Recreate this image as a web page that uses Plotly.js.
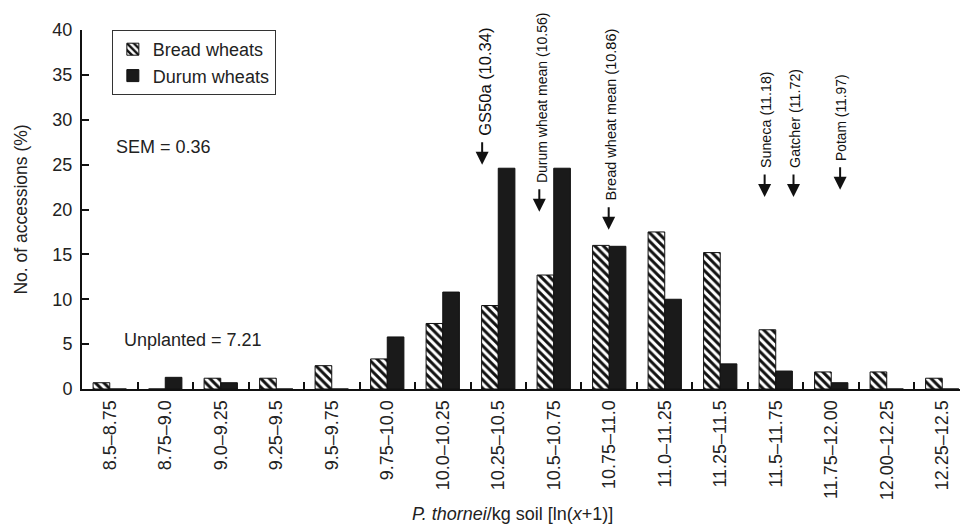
<!DOCTYPE html>
<html>
<head>
<meta charset="utf-8">
<script src="https://cdn.plot.ly/plotly-3.0.1.min.js"></script>
<style>html,body{margin:0;padding:0;background:#fff;}#chart{width:960px;height:531px;}</style>
</head>
<body>
<div id="chart"></div>
<script>
// Categories: P. thornei/kg soil [ln(x+1)] bins
const categories = ["8.5–8.75","8.75–9.0","9.0–9.25","9.25–9.5","9.5–9.75","9.75–10.0","10.0–10.25","10.25–10.5","10.5–10.75","10.75–11.0","11.0–11.25","11.25–11.5","11.5–11.75","11.75–12.00","12.00–12.25","12.25–12.5"];
// % of accessions
const breadWheats = [0.7, 0, 1.2, 1.2, 2.6, 3.35, 7.3, 9.3, 12.7, 16.0, 17.5, 15.2, 6.6, 1.9, 1.9, 1.2];
const durumWheats = [0, 1.3, 0.7, 0, 0, 5.8, 10.8, 24.6, 24.6, 15.9, 10.0, 2.8, 2.0, 0.7, 0, 0];
// Reference lines marked with arrows
const markerNames = ["GS50a", "Durum wheat mean", "Bread wheat mean", "Suneca", "Gatcher", "Potam"];
const markerValues = ["10.34", "10.56", "10.86", "11.18", "11.72", "11.97"];

// placement / style of arrow annotations (category-axis units, y data units)
const markerX = [6.71, 7.74, 8.99, 11.80, 12.32, 13.16];
const markerTipY = [25.0, 19.75, 17.75, 21.4, 21.4, 22.2];
const markerFontSize = [16.5, 14, 14.5, 14.3, 14.3, 13.8];

const traces = [
  {
    type: "bar", name: "Bread wheats", x: categories, y: breadWheats,
    marker: {color: "#ffffff", line: {color: "#111", width: 1},
      pattern: {shape: "\\", fgcolor: "#111", bgcolor: "#ffffff", size: 6, solidity: 0.5}}
  },
  {
    type: "bar", name: "Durum wheats", x: categories, y: durumWheats,
    marker: {color: "#1a1a1a", line: {color: "#111", width: 1}}
  }
];

const annotations = [];
const arrowLen = 24;
for (let i = 0; i < markerNames.length; i++) {
  annotations.push({
    x: markerX[i], y: markerTipY[i], xref: "x", yref: "y",
    text: "", showarrow: true, ax: 0, ay: -arrowLen, axref: "pixel", ayref: "pixel",
    arrowhead: 2, arrowsize: 1.3, arrowwidth: 2, arrowcolor: "#111"
  });
  annotations.push({
    x: markerX[i], y: markerTipY[i], xref: "x", yref: "y", yshift: arrowLen + 3, xshift: 2,
    text: markerNames[i] + " (" + markerValues[i] + ")", showarrow: false, textangle: -90,
    xanchor: "center", yanchor: "bottom",
    font: {family: "Liberation Sans Narrow, Liberation Sans, Arial", size: markerFontSize[i], color: "#111"}
  });
}
annotations.push({
  text: "SEM = 0.36", xref: "paper", yref: "paper", x: 0.037, y: 0.673, xanchor: "left", yanchor: "middle",
  showarrow: false, font: {family: "Liberation Sans, Arial", size: 18, color: "#222"}
});
annotations.push({
  text: "Unplanted = 7.21", xref: "paper", yref: "paper", x: 0.045, y: 0.136, xanchor: "left", yanchor: "middle",
  showarrow: false, font: {family: "Liberation Sans, Arial", size: 18, color: "#222"}
});
annotations.push({
  text: "<i>P. thornei</i>/kg soil [ln(<i>x</i>+1)]", xref: "paper", yref: "paper", x: 0.49, y: -0.348,
  xanchor: "center", yanchor: "middle", showarrow: false,
  font: {family: "Liberation Sans, Arial", size: 18, color: "#222"}
});

const layout = {
  width: 960, height: 531,
  margin: {l: 82, r: 0, t: 30, b: 142},
  paper_bgcolor: "#fff", plot_bgcolor: "#fff",
  barmode: "group", bargap: 0.4, bargroupgap: 0,
  font: {family: "Liberation Sans, Arial", color: "#222"},
  showlegend: true,
  legend: {x: 0.034, y: 1, xanchor: "left", yanchor: "top", bgcolor: "#fff",
    bordercolor: "#333", borderwidth: 1, font: {size: 18, color: "#222"}, tracegroupgap: 0},
  xaxis: {
    type: "category", range: [-0.5, 15.32], tickson: "boundaries",
    ticks: "inside", ticklen: 7, tickwidth: 2, tickcolor: "#111",
    showline: true, linecolor: "#111", linewidth: 2, showgrid: false, zeroline: false,
    tickangle: -90, tickfont: {size: 18, color: "#222"}, ticklabelstandoff: 2, fixedrange: true
  },
  yaxis: {
    range: [0, 40], dtick: 5, ticks: "inside", ticklen: 7, tickwidth: 2, tickcolor: "#111",
    showline: true, linecolor: "#111", linewidth: 2, showgrid: false, zeroline: false,
    tickfont: {size: 18, color: "#222"}, ticklabelstandoff: 4,
    title: {text: "No. of accessions (%)", font: {size: 17.5, color: "#222"}, standoff: 20}
  },
  annotations: annotations
};

Plotly.newPlot("chart", traces, layout, {displayModeBar: false, staticPlot: true});
</script>
</body>
</html>
